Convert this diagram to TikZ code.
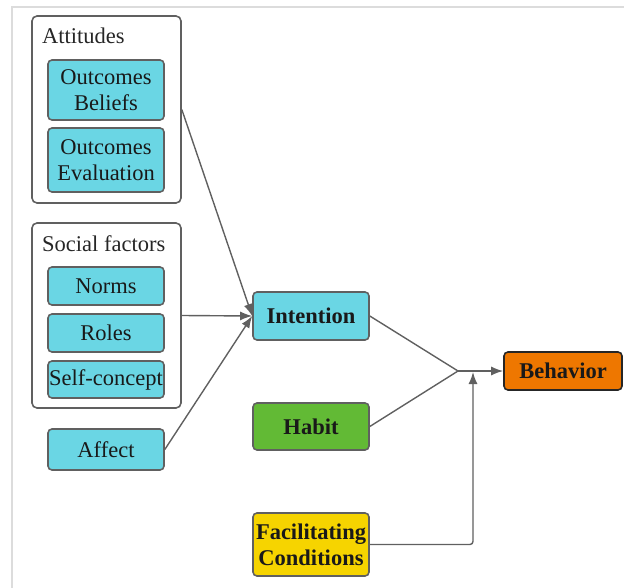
\documentclass[tikz,border=0pt]{standalone}
\usepackage{fontspec}
\setmainfont{Liberation Serif}
\usetikzlibrary{arrows.meta}
\definecolor{cyanbox}{HTML}{6AD6E4}
\definecolor{habitgreen}{HTML}{62BA35}
\definecolor{behorange}{HTML}{EE7700}
\definecolor{facyellow}{HTML}{F6D400}
\definecolor{edgegray}{HTML}{606060}
\definecolor{framegray}{HTML}{DCDCDC}
\tikzset{
  box/.style={draw=edgegray, line width=1.6pt, rounded corners=4pt, minimum width=116pt,
    inner sep=0pt, align=center, text=black!90, font=\fontsize{22.5}{26}\selectfont},
  cbox/.style={box, fill=cyanbox},
  bbox/.style={box, font=\fontsize{22.5}{26}\selectfont\bfseries},
  group/.style={draw=edgegray, line width=1.6pt, rounded corners=5pt, minimum width=149pt, inner sep=0pt},
  grouptitle/.style={anchor=base west, inner sep=0pt, text=black!85, font=\fontsize{22.5}{26}\selectfont},
  conn/.style={draw=edgegray, line width=1.4pt},
  arr/.style={conn, -{Latex[length=12pt,width=9pt]}}
}
\begin{document}
\begin{tikzpicture}[x=1pt,y=-1pt]
\useasboundingbox (0,0) rectangle (624,588);
\draw[framegray, line width=2pt] (12,588) -- (12,7) -- (624,7);

% Attitudes group
\node[group, minimum height=187pt] (att) at (106.5,109.5) {};
\node[grouptitle] (attt) at (42,44) {Attitudes};
\node[cbox, minimum height=60pt] (ob) at (106,90) {Outcomes\\Beliefs};
\node[cbox, minimum height=64pt] (oe) at (106,160) {Outcomes\\Evaluation};

% Social factors group
\node[group, minimum height=185pt] (soc) at (106.5,315.5) {};
\node[grouptitle] (soct) at (42,252) {Social factors};
\node[cbox, minimum height=38pt] (norms) at (106,286) {Norms};
\node[cbox, minimum height=38pt] (roles) at (106,333) {Roles};
\node[cbox, minimum height=37pt] (self) at (106,379.5) {Self-concept};

\node[cbox, minimum height=41pt] (aff) at (106,449.5) {Affect};

% Right column
\node[bbox, fill=cyanbox, minimum height=48pt] (int) at (311,316) {Intention};
\node[bbox, fill=habitgreen, minimum height=47pt] (hab) at (311,426.5) {Habit};
\node[bbox, fill=facyellow, minimum height=63pt] (fac) at (311,544.5) {Facilitating\\Conditions};
\node[bbox, fill=behorange, draw=black!85, minimum width=118pt, minimum height=38pt] (beh) at (563,371) {Behavior};

\coordinate (j) at (458,371);
\coordinate (fj) at (473,372);

\draw[arr] (att.east) -- (int.west);
\draw[arr] (soc.east) -- (int.west);
\draw[arr] (aff.east) -- (int.west);
\draw[conn] (int.east) -- (j);
\draw[conn] (hab.east) -- (j);
\draw[arr] (j) -- (beh.west);
\draw[arr, rounded corners=3pt] (fac.east) -| (fj);
\end{tikzpicture}
\end{document}
